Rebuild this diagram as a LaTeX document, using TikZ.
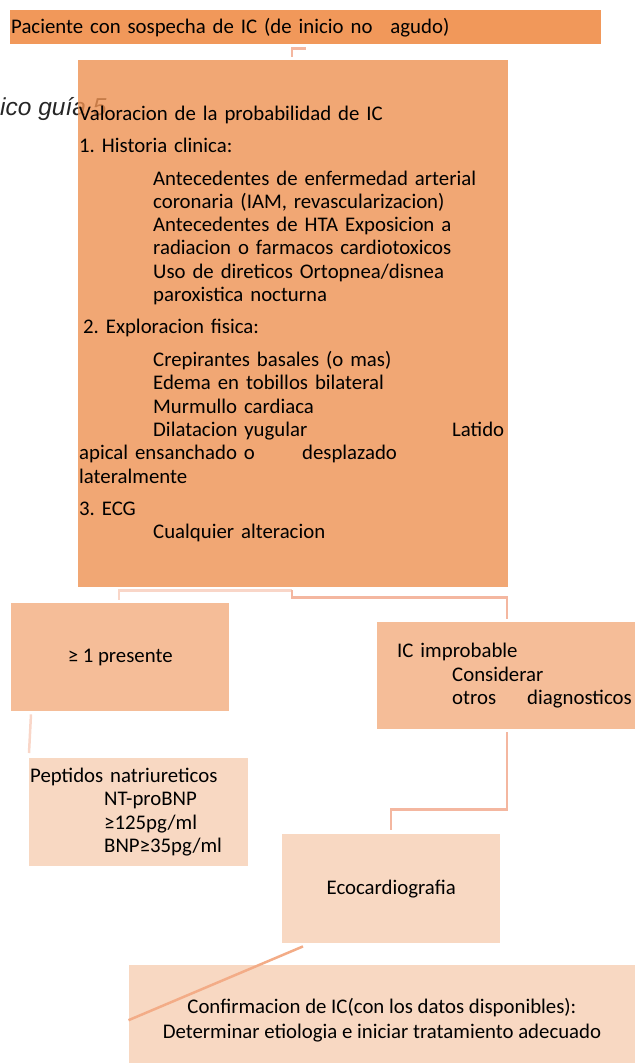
\documentclass[tikz,border=0pt]{standalone}
\usepackage{fontspec}
\setmainfont{Carlito}
\newfontfamily\arialfont{Liberation Sans}
\usepackage{tikz}
\usetikzlibrary{positioning}
\definecolor{naranja}{RGB}{241,152,90}
\definecolor{naranjab}{RGB}{238,145,81}
\definecolor{salmon}{RGB}{245,189,152}
\definecolor{crema}{RGB}{248,216,194}
\definecolor{enlace}{RGB}{244,183,160}
\definecolor{enlaceb}{RGB}{249,214,200}
\definecolor{diagonal}{RGB}{243,172,135}
\frenchspacing

\begin{document}
\begin{tikzpicture}[x=1pt,y=-1pt]

	\tikzset{caja/.style={rectangle, inner ysep=0pt, inner xsep=1pt, anchor=north west,
			font=\fontsize{20.8pt}{23.3pt}\selectfont, align=left},
		link/.style={draw=enlace, line width=2.5pt},
		linklight/.style={draw=enlaceb, line width=2.5pt}}
	\def\sang{\hspace*{74pt}}
	\useasboundingbox (0,0) rectangle (635,1063);

	% Paciente
	\node[caja, fill=naranja, minimum width=591pt, minimum height=34pt, text width=589pt] (paciente) at (10,10)
		{Paciente con sospecha de IC (de inicio no\hspace{18pt}agudo)};

	% Texto tapado
	\node[anchor=base west, inner sep=0pt, text=black!85,
		font=\arialfont\itshape\fontsize{24.5pt}{26pt}\selectfont] (guia) at (0,115) {ico guía 5};

	% Valoracion
	\node[caja, fill=naranjab, fill opacity=0.8, text opacity=1, minimum width=430pt,
		minimum height=527pt, text width=428pt] (valoracion) at (78,60) {%
		Valoracion de la probabilidad de IC\\[8.7pt]
		1. Historia clinica:\\[9.7pt]
		\sang Antecedentes de enfermedad arterial\\
		\sang coronaria (IAM, revascularizacion)\\
		\sang Antecedentes de HTA Exposicion a\\
		\sang radiacion o farmacos cardiotoxicos\\
		\sang Uso de direticos Ortopnea/disnea\\
		\sang paroxistica nocturna\\[8.7pt]
		\hspace*{4pt}2. Exploracion fisica:\\[9.7pt]
		\sang Crepirantes basales (o mas)\\
		\sang Edema en tobillos bilateral\\
		\sang Murmullo cardiaca\\
		\sang Dilatacion yugular\hfill Latido\kern3pt\\
		\makebox[223pt][l]{apical ensanchado o}desplazado\\
		lateralmente\\[8.7pt]
		3. ECG\\
		\sang Cualquier alteracion};

	% Ramas
	\node[caja, fill=salmon, minimum width=218pt, minimum height=108pt, align=center] (presente) at (11,603)
		{≥ 1 presente};
	\node[caja, fill=salmon, minimum width=258pt, minimum height=107pt, text width=256pt] (improbable) at (377,622)
		{\hspace*{19pt}IC improbable\\ \sang Considerar\\ \sang\makebox[75pt][l]{otros}diagnosticos};
	\node[caja, fill=crema, minimum width=219pt, minimum height=108pt, text width=217pt] (peptidos) at (29,758)
		{Peptidos natriureticos\\ \sang NT-proBNP\\ \sang ≥125pg/ml\\ \sang BNP≥35pg/ml};
	\node[caja, fill=crema, minimum width=218pt, minimum height=109pt, align=center] (eco) at (282,834)
		{Ecocardiografia};
	\node[caja, fill=crema, minimum width=506.5pt, minimum height=110pt, align=center,
		font=\fontsize{20.8pt}{25pt}\selectfont] (confirmacion) at (128.5,965)
		{Confirmacion de IC(con los datos disponibles):\\ Determinar etiologia e iniciar tratamiento adecuado};

	% Conectores
	\draw[link] ([yshift=-4pt]paciente.south) -| ([xshift=-1pt,yshift=3pt]valoracion.north);
	\draw[linklight] ([xshift=-1pt,yshift=-3pt]valoracion.south) -| ([xshift=-1pt,yshift=3pt]presente.north);
	\draw[link] ([xshift=-1pt,yshift=-3pt]valoracion.south) -- ++(0,7) -| ([xshift=1pt,yshift=3pt]improbable.north);
	\draw[linklight] ([xshift=20pt,yshift=-3pt]presente.south west) -- ([yshift=5pt]peptidos.north west);
	\draw[link] ([xshift=1pt,yshift=-3pt]improbable.south) -- ++(0,77) -| ([yshift=4pt]eco.north);
	\draw[draw=diagonal, line width=2.5pt] ([xshift=21pt,yshift=-3pt]eco.south west) -- (confirmacion.west);
\end{tikzpicture}
\end{document}
